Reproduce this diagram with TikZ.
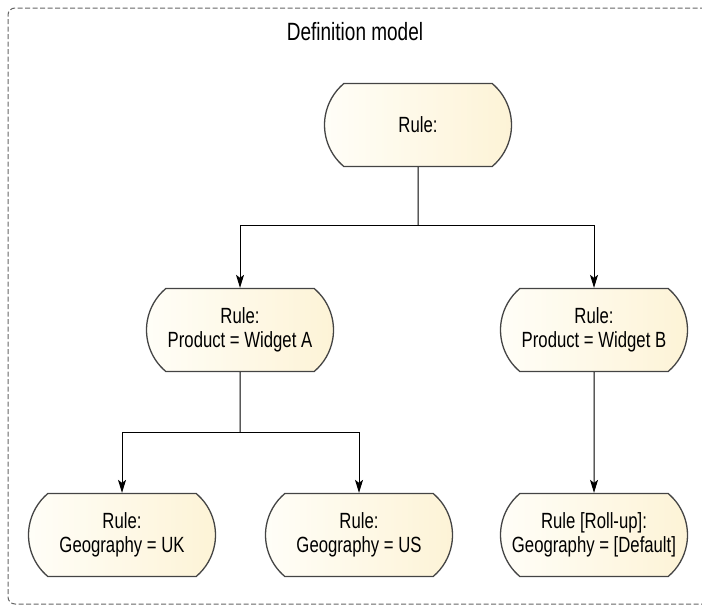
\documentclass[tikz,border=0pt]{standalone}
\usepackage{fontspec}
\setmainfont{Liberation Sans}[FakeStretch=0.76]
\usetikzlibrary{shapes.misc,arrows.meta}
\definecolor{edgegray}{HTML}{444444}
\definecolor{creamL}{HTML}{FFFEF8}
\definecolor{creamR}{HTML}{FDF3D6}
\definecolor{framegray}{HTML}{666666}
\begin{document}
\begin{tikzpicture}[x=1pt,y=-1pt,
  rulebox/.style={rounded rectangle, rounded rectangle arc length=100,
    minimum width=187pt, minimum height=83pt, inner sep=0pt,
    draw=edgegray, line width=1.3pt, left color=creamL, right color=creamR,
    align=center, font=\fontsize{22}{24}\selectfont},
  conn/.style={draw=black, line width=1pt, -{Stealth[length=13pt,width=8pt,inset=3pt]}},
  plain/.style={draw=black, line width=1pt},
  frame/.style={draw=framegray, line width=1pt, dash pattern=on 5pt off 2.5pt, rounded corners=7pt}]
\useasboundingbox (0,0) rectangle (702,606);
\draw[frame] (720,8) -- (8,8) -- (8,604) -- (720,604);
\node[font=\fontsize{25}{28}\selectfont] (title) at (355,32) {Definition model};

\node[rulebox] (root) at (418,125) {Rule:};
\node[rulebox] (A) at (240,330) {Rule:\\Product = Widget A};
\node[rulebox] (B) at (594,330) {Rule:\\Product = Widget B};
\node[rulebox] (UK) at (122,535) {Rule:\\Geography = UK};
\node[rulebox] (US) at (359,535) {Rule:\\Geography = US};
\node[rulebox] (RU) at (594,535) {Rule [Roll-up]:\\Geography = [Default]};

\coordinate (j1) at (418,225);
\coordinate (j2) at (240,432);
\draw[plain] (root) -- (j1);
\draw[conn] (j1) -| (A);
\draw[conn] (j1) -| (B);
\draw[plain] (A) -- (j2);
\draw[conn] (j2) -| (UK);
\draw[conn] (j2) -| (US);
\draw[conn] (B) -- (RU);
\end{tikzpicture}
\end{document}
